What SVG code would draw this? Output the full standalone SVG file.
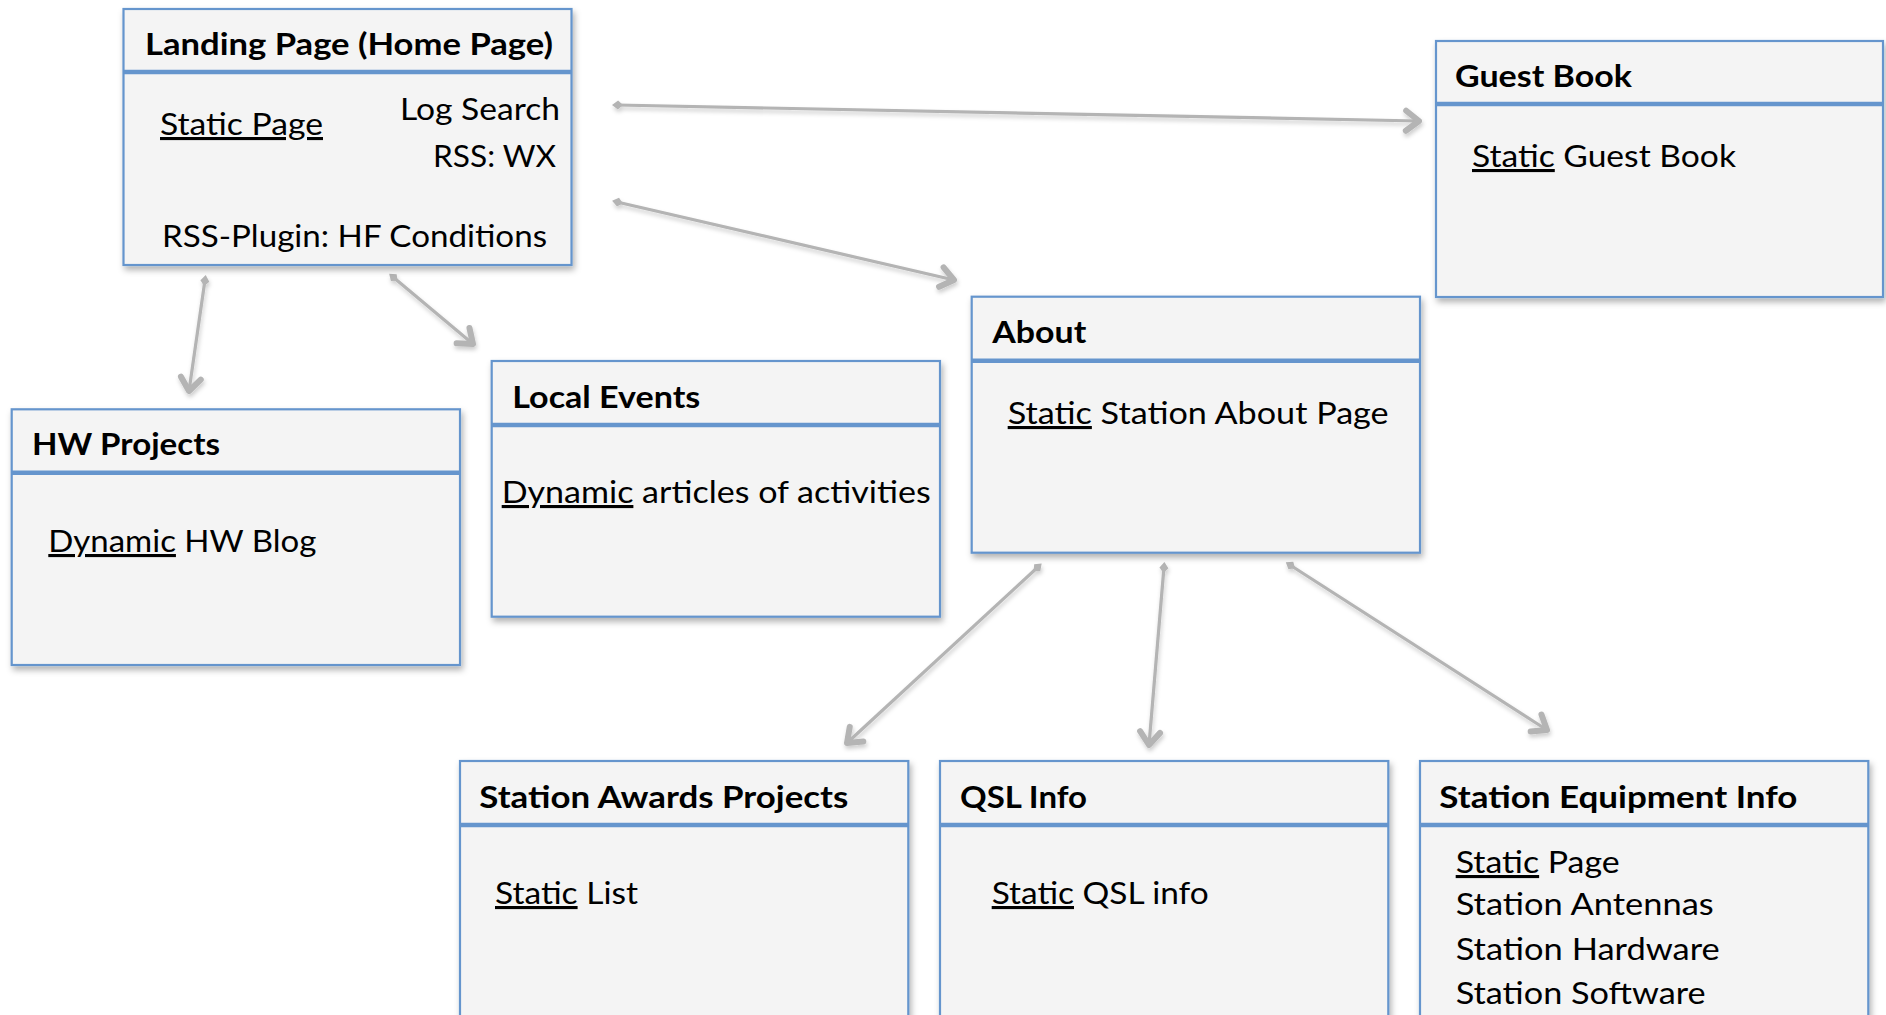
<svg xmlns="http://www.w3.org/2000/svg" width="1886" height="1015" viewBox="0 0 1886 1015">
<style>
.box{fill:#f4f4f4;stroke:#6595cd;stroke-width:2.2}
.sep{stroke:#6595cd;stroke-width:4.5}
.t{font-family:Lato,"Open Sans","Liberation Sans",sans-serif;font-size:31px;fill:#000}
.b{font-weight:bold}
.u{text-decoration:underline}
.c{fill:none;stroke:#b4b4b4;stroke-width:3.2}
</style>
<defs>
<filter id="sh" x="-10%" y="-10%" width="125%" height="130%">
<feDropShadow dx="2" dy="4" stdDeviation="3" flood-color="#000" flood-opacity="0.3"/>
</filter>
<filter id="ash" x="-10%" y="-10%" width="120%" height="130%">
<feDropShadow dx="1" dy="3" stdDeviation="2" flood-color="#000" flood-opacity="0.2"/>
</filter>
<marker id="ah" markerUnits="userSpaceOnUse" viewBox="-20 -14 24 28" refX="0" refY="0" markerWidth="24" markerHeight="28" orient="auto">
<path d="M-13,-10 L0,0 L-13,10" fill="none" stroke="#b4b4b4" stroke-width="6" stroke-linecap="round" stroke-linejoin="round"/>
</marker>
<marker id="dm" markerUnits="userSpaceOnUse" viewBox="-8 -6 16 12" refX="0" refY="0" markerWidth="16" markerHeight="12" orient="auto">
<path d="M-5,0 L1,-4.5 L6,0 L1,4.5 Z" fill="#b4b4b4"/>
</marker>
</defs>
<g id="connectors" filter="url(#ash)">
<line class="c" x1="617" y1="105" x2="1419" y2="121" marker-start="url(#dm)" marker-end="url(#ah)"/>
<line class="c" x1="617" y1="202" x2="954" y2="280" marker-start="url(#dm)" marker-end="url(#ah)"/>
<line class="c" x1="205" y1="280" x2="189" y2="391" marker-start="url(#dm)" marker-end="url(#ah)"/>
<line class="c" x1="393" y1="277" x2="473" y2="344" marker-start="url(#dm)" marker-end="url(#ah)"/>
<line class="c" x1="1038" y1="567" x2="847" y2="743" marker-start="url(#dm)" marker-end="url(#ah)"/>
<line class="c" x1="1164" y1="567" x2="1149" y2="745" marker-start="url(#dm)" marker-end="url(#ah)"/>
<line class="c" x1="1290" y1="565" x2="1547" y2="730" marker-start="url(#dm)" marker-end="url(#ah)"/>
</g>
<g id="landing">
<rect class="box" x="123.5" y="9" width="448" height="256" filter="url(#sh)"/>
<line class="sep" x1="123.5" y1="72" x2="571.5" y2="72"/>
<text class="t b" x="145" y="55" textLength="408" lengthAdjust="spacingAndGlyphs">Landing Page (Home Page)</text>
<text class="t u" x="160" y="135" textLength="163" lengthAdjust="spacingAndGlyphs">Static Page</text>
<text class="t" x="400" y="120" textLength="160" lengthAdjust="spacingAndGlyphs">Log Search</text>
<text class="t" x="433" y="167" textLength="123" lengthAdjust="spacingAndGlyphs">RSS: WX</text>
<text class="t" x="162" y="247" textLength="385" lengthAdjust="spacingAndGlyphs">RSS-Plugin: HF Conditions</text>
</g>
<g id="guestbook">
<rect class="box" x="1436" y="41" width="447" height="256" filter="url(#sh)"/>
<line class="sep" x1="1436" y1="104" x2="1883" y2="104"/>
<text class="t b" x="1455" y="87" textLength="177" lengthAdjust="spacingAndGlyphs">Guest Book</text>
<text class="t" x="1472" y="167" textLength="264" lengthAdjust="spacingAndGlyphs"><tspan class="u">Static</tspan> Guest Book</text>
</g>
<g id="hwprojects">
<rect class="box" x="11.7" y="409.3" width="448.3" height="255.7" filter="url(#sh)"/>
<line class="sep" x1="11.7" y1="472.7" x2="460" y2="472.7"/>
<text class="t b" x="32" y="455" textLength="188" lengthAdjust="spacingAndGlyphs">HW Projects</text>
<text class="t" x="48.3" y="552" textLength="268" lengthAdjust="spacingAndGlyphs"><tspan class="u">Dynamic</tspan> HW Blog</text>
</g>
<g id="localevents">
<rect class="box" x="491.7" y="361" width="448.3" height="255.7" filter="url(#sh)"/>
<line class="sep" x1="491.7" y1="425" x2="940" y2="425"/>
<text class="t b" x="512.3" y="408" textLength="188" lengthAdjust="spacingAndGlyphs">Local Events</text>
<text class="t" x="501.7" y="503" textLength="429" lengthAdjust="spacingAndGlyphs"><tspan class="u">Dynamic</tspan> articles of activities</text>
</g>
<g id="about">
<rect class="box" x="971.7" y="296.7" width="448.3" height="256" filter="url(#sh)"/>
<line class="sep" x1="971.7" y1="360.7" x2="1420" y2="360.7"/>
<text class="t b" x="992.3" y="343" textLength="94" lengthAdjust="spacingAndGlyphs">About</text>
<text class="t" x="1007.7" y="424" textLength="381" lengthAdjust="spacingAndGlyphs"><tspan class="u">Static</tspan> Station About Page</text>
</g>
<g id="awards">
<rect class="box" x="460" y="761" width="448.3" height="300" filter="url(#sh)"/>
<line class="sep" x1="460" y1="825" x2="908.3" y2="825"/>
<text class="t b" x="479.3" y="808" textLength="369" lengthAdjust="spacingAndGlyphs">Station Awards Projects</text>
<text class="t" x="495" y="904" textLength="143" lengthAdjust="spacingAndGlyphs"><tspan class="u">Static</tspan> List</text>
</g>
<g id="qsl">
<rect class="box" x="940" y="761" width="448.3" height="300" filter="url(#sh)"/>
<line class="sep" x1="940" y1="825" x2="1388.3" y2="825"/>
<text class="t b" x="960" y="808" textLength="127" lengthAdjust="spacingAndGlyphs">QSL Info</text>
<text class="t" x="991.7" y="904" textLength="217" lengthAdjust="spacingAndGlyphs"><tspan class="u">Static</tspan> QSL info</text>
</g>
<g id="equipment">
<rect class="box" x="1420" y="761" width="448.3" height="300" filter="url(#sh)"/>
<line class="sep" x1="1420" y1="825" x2="1868.3" y2="825"/>
<text class="t b" x="1439.3" y="808" textLength="358" lengthAdjust="spacingAndGlyphs">Station Equipment Info</text>
<text class="t" x="1455.7" y="873" textLength="164" lengthAdjust="spacingAndGlyphs"><tspan class="u">Static</tspan> Page</text>
<text class="t" x="1455.7" y="915" textLength="258" lengthAdjust="spacingAndGlyphs">Station Antennas</text>
<text class="t" x="1455.7" y="960" textLength="264" lengthAdjust="spacingAndGlyphs">Station Hardware</text>
<text class="t" x="1455.7" y="1004" textLength="250" lengthAdjust="spacingAndGlyphs">Station Software</text>
</g>
</svg>
